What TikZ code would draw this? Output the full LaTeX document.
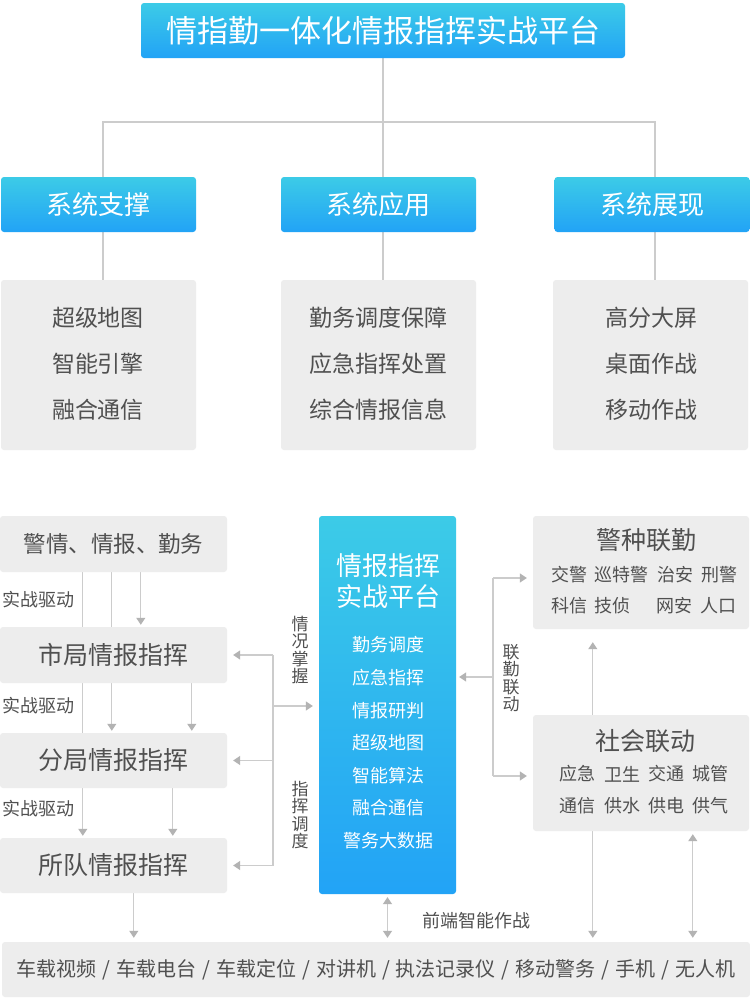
\documentclass[tikz,border=0pt]{standalone}
\usepackage{fontspec}
\setmainfont{Noto Sans CJK SC}
\usetikzlibrary{arrows.meta}
\definecolor{cyanT}{HTML}{3CCBE7}
\definecolor{blueB}{HTML}{22A3F6}
\definecolor{boxg}{HTML}{EDEDED}
\definecolor{txt}{HTML}{505050}
\definecolor{ln}{HTML}{CCCCCC}
\definecolor{ah}{HTML}{B3B3B3}
\newcommand{\fs}[1]{\fontsize{#1}{#1}\selectfont}
\newcommand{\sepx}{\hspace{6pt}/\hspace{6pt}}
\pgfdeclarelayer{background}
\pgfsetlayers{background,main}
\begin{document}
\begin{tikzpicture}[x=1pt,y=-1pt,
 bluebox/.style={rounded corners=3pt, top color=cyanT, bottom color=blueB, text=white, inner sep=0pt},
 graybox/.style={rounded corners=3pt, fill=boxg, text=txt, inner sep=0pt},
 lbl/.style={text=txt, inner sep=0pt},
 vlbl/.style={text=txt, inner sep=0pt, align=center, font=\fontsize{17}{17.5}\selectfont},
 wlbl/.style={text=white, inner sep=0pt},
 conn/.style={draw=ln, line width=1.2pt},
 tip/.tip={Triangle[width=9pt,length=7pt,color=ah]},
 arr/.style={conn, -tip, shorten >=2pt},
 arrH/.style={conn, -tip, shorten >=6pt},
 darr/.style={conn, tip-tip, shorten >=4pt, shorten <=3pt},
]
\useasboundingbox (0,0) rectangle (750,1002);

% ---------- top part ----------
\node[bluebox, minimum width=484pt, minimum height=55pt, font=\fs{31}] (top) at (383,30.5) {情指勤一体化情报指挥实战平台};
\node[bluebox, minimum width=195pt, minimum height=55pt, font=\fs{26}] (sup) at (98.5,204.5) {系统支撑};
\node[bluebox, minimum width=195pt, minimum height=55pt, font=\fs{26}] (app) at (378.5,204.5) {系统应用};
\node[bluebox, minimum width=195pt, minimum height=55pt, font=\fs{26}] (disp) at (652,204.5) {系统展现};

\node[graybox, minimum width=195pt, minimum height=170pt] (g1) at (98.5,365) {};
\node[graybox, minimum width=195pt, minimum height=170pt] (g2) at (378.5,365) {};
\node[graybox, minimum width=195pt, minimum height=170pt] (g3) at (650.5,365) {};

\node[lbl, font=\fs{23}] (g1a) at (98,318) {超级地图};
\node[lbl, font=\fs{23}] (g1b) at (98,364) {智能引擎};
\node[lbl, font=\fs{23}] (g1c) at (98,410) {融合通信};
\node[lbl, font=\fs{23}] (g2a) at (378,318) {勤务调度保障};
\node[lbl, font=\fs{23}] (g2b) at (378,364) {应急指挥处置};
\node[lbl, font=\fs{23}] (g2c) at (378,410) {综合情报信息};
\node[lbl, font=\fs{23}] (g3a) at (651,318) {高分大屏};
\node[lbl, font=\fs{23}] (g3b) at (651,364) {桌面作战};
\node[lbl, font=\fs{23}] (g3c) at (651,410) {移动作战};

% ---------- lower part ----------
\node[graybox, minimum width=227pt, minimum height=56pt, font=\fs{22.5}] (jq) at (113.5,544) {警情、情报、勤务};
\node[graybox, minimum width=227pt, minimum height=56pt, font=\fs{25}] (sj) at (113.5,655) {市局情报指挥};
\node[graybox, minimum width=227pt, minimum height=55pt, font=\fs{25}] (fj) at (113.5,760.5) {分局情报指挥};
\node[graybox, minimum width=227pt, minimum height=55pt, font=\fs{25}] (sd) at (113.5,865.5) {所队情报指挥};

% center box
\node[bluebox, minimum width=137pt, minimum height=378pt] (cp) at (387.5,705) {};
\node[wlbl, font=\fs{26}] (cpt1) at (388,566) {情报指挥};
\node[wlbl, font=\fs{26}] (cpt2) at (388,597) {实战平台};
\node[wlbl, font=\fs{18}] (cp1) at (388,645) {勤务调度};
\node[wlbl, font=\fs{18}] (cp2) at (388,678) {应急指挥};
\node[wlbl, font=\fs{18}] (cp3) at (388,711) {情报研判};
\node[wlbl, font=\fs{18}] (cp4) at (388,743) {超级地图};
\node[wlbl, font=\fs{18}] (cp5) at (388,776) {智能算法};
\node[wlbl, font=\fs{18}] (cp6) at (388,808) {融合通信};
\node[wlbl, font=\fs{18}] (cp7) at (388,841) {警务大数据};

% right boxes
\node[graybox, minimum width=216pt, minimum height=113pt] (jz) at (641,572.5) {};
\node[lbl, font=\fs{25}] (jzt) at (646,540) {警种联勤};
\node[lbl, font=\fs{18}, anchor=west] (jz1) at (551,575) {交警};
\node[lbl, font=\fs{18}, anchor=west] (jz2) at (594,575) {巡特警};
\node[lbl, font=\fs{18}, anchor=west] (jz3) at (657,575) {治安};
\node[lbl, font=\fs{18}, anchor=west] (jz4) at (701,575) {刑警};
\node[lbl, font=\fs{18}, anchor=west] (jz5) at (551,606) {科信};
\node[lbl, font=\fs{18}, anchor=west] (jz6) at (594,606) {技侦};
\node[lbl, font=\fs{18}, anchor=west] (jz7) at (656,606) {网安};
\node[lbl, font=\fs{18}, anchor=west] (jz8) at (700,606) {人口};

\node[graybox, minimum width=216pt, minimum height=116pt] (sh) at (641,773) {};
\node[lbl, font=\fs{25}] (sht) at (645,741) {社会联动};
\node[lbl, font=\fs{18}, anchor=west] (sh1) at (559,774) {应急};
\node[lbl, font=\fs{18}, anchor=west] (sh2) at (604,774) {卫生};
\node[lbl, font=\fs{18}, anchor=west] (sh3) at (648,774) {交通};
\node[lbl, font=\fs{18}, anchor=west] (sh4) at (692,774) {城管};
\node[lbl, font=\fs{18}, anchor=west] (sh5) at (559,806) {通信};
\node[lbl, font=\fs{18}, anchor=west] (sh6) at (604,806) {供水};
\node[lbl, font=\fs{18}, anchor=west] (sh7) at (648,806) {供电};
\node[lbl, font=\fs{18}, anchor=west] (sh8) at (692,806) {供气};

% bottom box
\node[graybox, minimum width=748pt, minimum height=55pt, font=\fs{20}] (bot) at (376,969.5)
 {车载视频\sepx 车载电台\sepx 车载定位\sepx 对讲机\sepx 执法记录仪\sepx 移动警务\sepx 手机\sepx 无人机};

% labels
\node[lbl, font=\fs{18}] (d1) at (38,600) {实战驱动};
\node[lbl, font=\fs{18}] (d2) at (38,706) {实战驱动};
\node[lbl, font=\fs{18}] (d3) at (38,809) {实战驱动};
\node[vlbl] (v1) at (300,650) {情\\况\\掌\\握};
\node[vlbl] (v2) at (300,815) {指\\挥\\调\\度};
\node[vlbl] (v3) at (511,678) {联\\勤\\联\\动};
\node[lbl, font=\fs{18}] (qd) at (476,921) {前端智能作战};

% ---------- connectors (behind boxes) ----------
\begin{pgfonlayer}{background}
\fill[white] (0,0) rectangle (750,1002);
\coordinate (hj) at (383,122);
\draw[conn] (top.south) -- (top.south |- app.north);
\draw[conn] ([xshift=4.5pt]sup.north) |- (hj) -| ([xshift=3pt]disp.north);
\draw[conn] ([xshift=4.5pt]sup.south) -- ([xshift=4.5pt]sup.south |- g1.north);
\draw[conn] (top.south |- app.south) -- (top.south |- g2.north);
\draw[conn] ([xshift=3pt]disp.south) -- ([xshift=3pt]disp.south |- g3.north);

\draw[arr] ([xshift=83pt]jq.south west) -- ([xshift=83pt]sd.north west);
\draw[arr] ([xshift=112pt]jq.south west) -- ([xshift=112pt]fj.north west);
\draw[arr] ([xshift=141pt]jq.south west) -- ([xshift=141pt]sj.north west);
\draw[arr] ([xshift=192pt]sj.south west) -- ([xshift=192pt]fj.north west);
\draw[arr] ([xshift=173pt]fj.south west) -- ([xshift=173pt]sd.north west);
\draw[arr, shorten >=4pt] ([xshift=134pt]sd.south west) -- ([xshift=134pt]sd.south west |- bot.north);

\coordinate (vl) at (273,0);
\coordinate (m) at (273,706);
\draw[conn] (vl |- sj.east) -- (vl |- sd.east);
\draw[arrH] (vl |- sj.east) -- (sj.east);
\draw[arrH] (vl |- fj.east) -- (fj.east);
\draw[arrH] (vl |- sd.east) -- (sd.east);
\draw[arrH] (m) -- (m -| cp.west);

\coordinate (r1) at (493,578);
\coordinate (r2) at (493,776);
\coordinate (r3) at (493,677);
\draw[conn] (r1) -- (r2);
\draw[arrH] (r1) -- (r1 -| jz.west);
\draw[arrH] (r2) -- (r2 -| sh.west);
\draw[arrH, shorten >=3pt] (r3) -- (r3 -| cp.east);

\draw[arr, shorten >=13pt] ([xshift=60pt]sh.north west) -- ([xshift=60pt]sh.north west |- jz.south);
\draw[arr, shorten >=4pt] ([xshift=60pt]sh.south west) -- ([xshift=60pt]sh.south west |- bot.north);
\draw[darr] ([xshift=160pt]sh.south west) -- ([xshift=160pt]sh.south west |- bot.north);
\draw[darr] (cp.south) -- (cp.south |- bot.north);
\end{pgfonlayer}
\end{tikzpicture}
\end{document}
